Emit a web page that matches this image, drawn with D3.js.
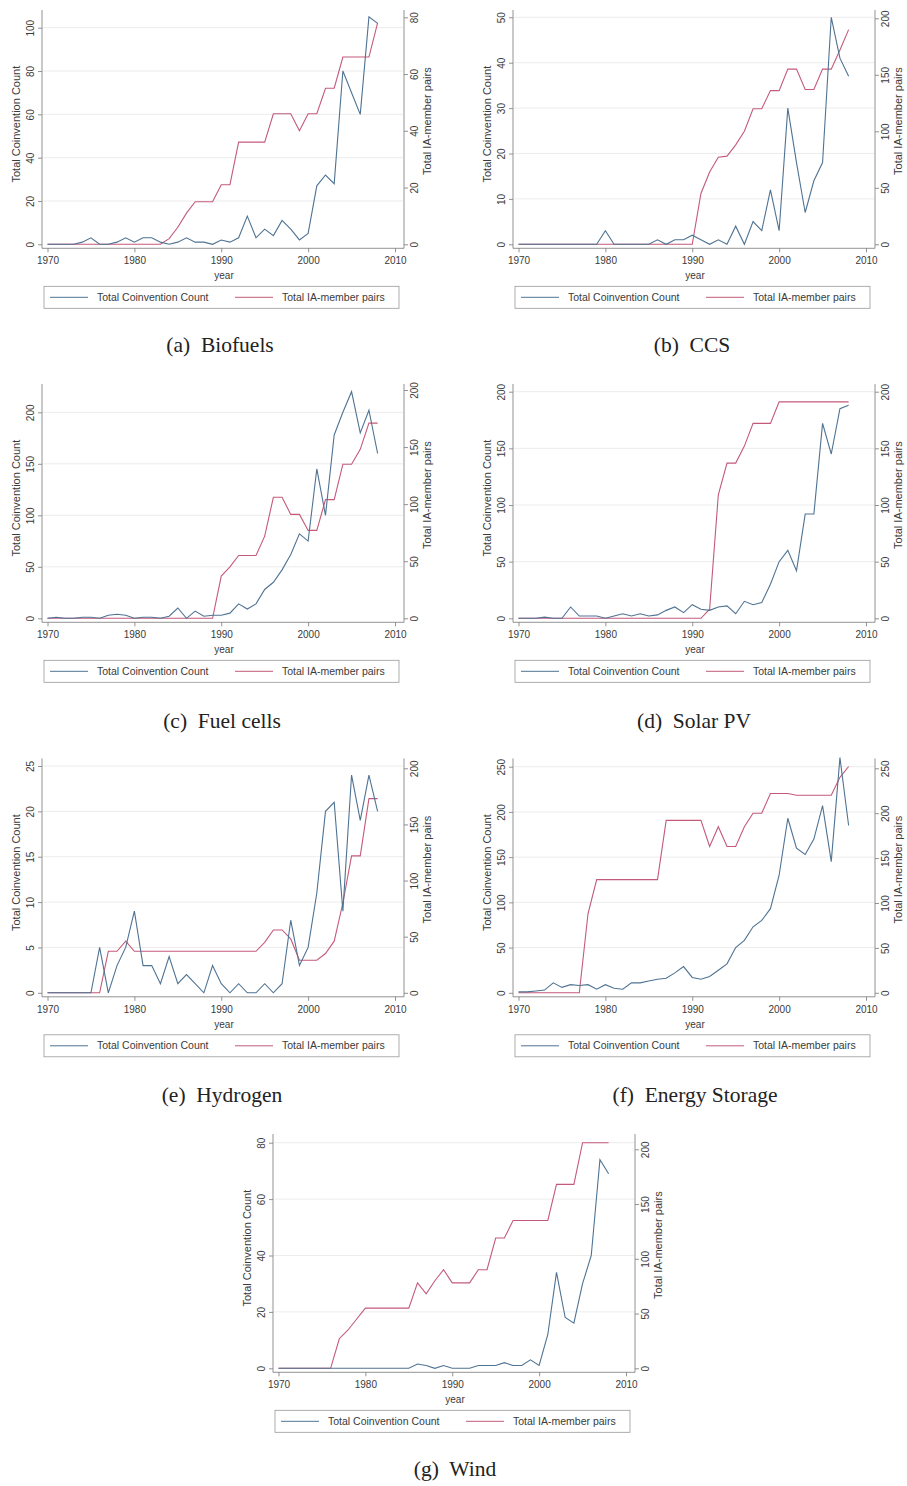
<!DOCTYPE html>
<html><head><meta charset="utf-8">
<script src="https://cdn.jsdelivr.net/npm/d3@7"></script>
<style>
body{margin:0;background:#fff;}
svg{display:block;}
</style>
</head><body>
<svg id="c" width="907" height="1486"></svg>
<script>
// ---- data ----
const years = d3.range(1970, 2009);
const xTicks = [1970, 1980, 1990, 2000, 2010];
const legendLabels = ["Total Coinvention Count", "Total IA-member pairs"];

const biofuelsCount = [0,0,0,0,1,3,0,0,1,3,1,3,3,1,0,1,3,1,1,0,2,1,3,13,3,7,4,11,7,2,5,27,32,28,80,70,60,105,102];
const biofuelsPairs = [0,0,0,0,0,0,0,0,0,0,0,0,0,0,2,6,11,15,15,15,21,21,36,36,36,36,46,46,46,40,46,46,55,55,66,66,66,66,78];

const ccsCount = [0,0,0,0,0,0,0,0,0,0,3,0,0,0,0,0,1,0,1,1,2,1,0,1,0,4,0,5,3,12,3,30,18,7,14,18,50,41,37];
const ccsPairs = [0,0,0,0,0,0,0,0,0,0,0,0,0,0,0,0,0,0,0,0,0,45,64,77,78,88,100,120,120,136,136,155,155,137,137,155,155,172,190];

const fuelCount = [0,1,0,0,1,1,0,3,4,3,0,1,1,0,2,10,0,7,2,3,3,5,14,9,14,28,35,47,62,82,75,145,100,178,200,220,180,202,160];
const fuelPairs = [0,0,0,0,0,0,0,0,0,0,0,0,0,0,0,0,0,0,0,0,37,45,55,55,55,72,106,106,91,91,77,77,104,104,135,135,148,171,171];

const solarCount = [0,0,0,1,0,0,10,2,2,2,0,2,4,2,4,2,3,7,10,5,12,8,7,10,11,4,15,12,14,30,50,60,42,92,92,172,145,185,188];
const solarPairs = [0,0,0,0,0,0,0,0,0,0,0,0,0,0,0,0,0,0,0,0,0,0,8,109,137,137,152,172,172,172,191,191,191,191,191,191,191,191,191];

const hydroCount = [0,0,0,0,0,0,5,0,3,5,9,3,3,1,4,1,2,1,0,3,1,0,1,0,0,1,0,1,8,3,5,11,20,21,9,24,19,24,20];
const hydroPairs = [0,0,0,0,0,0,0,37,37,46,37,37,37,37,37,37,37,37,37,37,37,37,37,37,37,45,56,56,48,29,29,29,35,46,80,122,122,173,173];

const storageCount = [1,1,2,3,11,6,9,8,9,4,9,5,4,11,11,13,15,16,22,29,17,15,18,25,32,50,58,73,80,93,130,193,160,153,170,207,145,260,185];
const storagePairs = [0,0,0,0,0,0,0,0,88,126,126,126,126,126,126,126,126,192,192,192,192,192,163,185,163,163,185,200,200,222,222,222,220,220,220,220,220,240,252];

const windCount = [0,0,0,0,0,0,0,0,0,0,0,0,0,0,0,0,1.5,1,0,1,0,0,0,1,1,1,2,1,1,3,1,12,34,18,16,30,40,74,69];
const windPairs = [0,0,0,0,0,0,0,27,35,45,55,55,55,55,55,55,78,68,80,90,78,78,78,90,90,119,119,135,135,135,135,135,168,168,168,206,206,206,206];

const captions = ["(a)  Biofuels","(b)  CCS","(c)  Fuel cells","(d)  Solar PV","(e)  Hydrogen","(f)  Energy Storage","(g)  Wind"];
const leftTicks = [[0,20,40,60,80,100],[0,10,20,30,40,50],[0,50,100,150,200],[0,50,100,150,200],[0,5,10,15,20,25],[0,50,100,150,200,250],[0,20,40,60,80]];
const rightTicks = [[0,20,40,60,80],[0,50,100,150,200],[0,50,100,150,200],[0,50,100,150,200],[0,50,100,150,200],[0,50,100,150,200,250],[0,50,100,150,200]];

// ---- layout ----
const panels = [
  {count: biofuelsCount, pairs: biofuelsPairs, ox:0,   oy:0,    lTop:[100,27.7], rTop:[80,17.3], y0:244.3, capX:220, capY:346},
  {count: ccsCount,      pairs: ccsPairs,      ox:471, oy:0,    lTop:[50,17.3],  rTop:[200,18.3], y0:244.3, capX:692, capY:346},
  {count: fuelCount,     pairs: fuelPairs,     ox:0,   oy:374,  lTop:[200,38.3], rTop:[200,16], y0:244.3, capX:222, capY:722},
  {count: solarCount,    pairs: solarPairs,    ox:471, oy:374,  lTop:[200,17.7], rTop:[200,17.7], y0:244.3, capX:694, capY:722},
  {count: hydroCount,    pairs: hydroPairs,    ox:0,   oy:748.5,lTop:[25,17.5],  rTop:[200,19.8], y0:244.3, capX:222, capY:1096},
  {count: storageCount,  pairs: storagePairs,  ox:471, oy:748.5,lTop:[250,18.2], rTop:[250,19.8], y0:244.3, capX:695, capY:1096},
  {count: windCount,     pairs: windPairs,     ox:231, oy:1124, lTop:[80,18.7],  rTop:[200,25.3], y0:244.3, capX:455, capY:1470}
];

const BLUE = "#4f7393", RED = "#c45a7a";
const svg = d3.select("#c");
const fontS = "Liberation Sans, Arial, sans-serif";
const TXT = "#3a3a3a";

panels.forEach((p, i) => {
  const g = svg.append("g").attr("transform", `translate(${p.ox},${p.oy})`);
  const xL = 42, xR = 404, yAx = p.y0 + 4, yTop = 10;
  const x = d3.scaleLinear().domain([1970, 2010]).range([47.5, 395]);
  const yl = d3.scaleLinear().domain([0, p.lTop[0]]).range([p.y0, p.lTop[1]]);
  const yr = d3.scaleLinear().domain([0, p.rTop[0]]).range([p.y0, p.rTop[1]]);

  // gridlines
  g.append("g").selectAll("line").data(leftTicks[i].filter(d => d > 0)).join("line")
    .attr("x1", xL + 1).attr("x2", xR - 1)
    .attr("y1", d => yl(d)).attr("y2", d => yl(d))
    .attr("stroke", "#ececec").attr("stroke-width", 1);

  // axes
  const axL = d3.axisLeft(yl).tickValues(leftTicks[i]).tickSize(4).tickPadding(3);
  const gL = g.append("g").attr("transform", `translate(${xL},0)`).call(axL);
  gL.select(".domain").attr("d", `M0,${yTop}V${yAx}`);
  const axR = d3.axisRight(yr).tickValues(rightTicks[i]).tickSize(4).tickPadding(3);
  const gR = g.append("g").attr("transform", `translate(${xR},0)`).call(axR);
  gR.select(".domain").attr("d", `M0,${yTop}V${yAx}`);
  const axB = d3.axisBottom(x).tickValues(xTicks).tickFormat(d3.format("d")).tickSize(4).tickPadding(5);
  const gB = g.append("g").attr("transform", `translate(0,${yAx})`).call(axB);
  gB.select(".domain").attr("d", `M${xL},0H${xR}`);

  [gL, gR, gB].forEach(a => {
    a.selectAll("path,line").attr("stroke", "#777").attr("stroke-width", 0.8);
    a.selectAll("text").attr("font-family", fontS).attr("font-size", 10).attr("fill", TXT);
  });
  // rotate y tick labels
  gL.selectAll(".tick text").attr("transform", "rotate(-90)").attr("text-anchor", "middle")
    .attr("x", 0).attr("y", -8.5).attr("dy", 0);
  gR.selectAll(".tick text").attr("transform", "rotate(-90)").attr("text-anchor", "middle")
    .attr("x", 0).attr("y", 14).attr("dy", 0);

  // axis titles
  g.append("text").attr("transform", `translate(19.5,${(yTop + yAx) / 2 - 5}) rotate(-90)`)
    .attr("text-anchor", "middle").attr("font-family", fontS).attr("font-size", 11).attr("fill", TXT)
    .text("Total Coinvention Count");
  g.append("text").attr("transform", `translate(431,${(yTop + yAx) / 2 - 8}) rotate(-90)`)
    .attr("text-anchor", "middle").attr("font-family", fontS).attr("font-size", 11).attr("fill", TXT)
    .text("Total IA-member pairs");
  g.append("text").attr("x", (xL + xR) / 2 + 1).attr("y", yAx + 31)
    .attr("text-anchor", "middle").attr("font-family", fontS).attr("font-size", 10).attr("fill", TXT)
    .text("year");

  // lines
  const lineL = d3.line().x((d, j) => x(years[j])).y(d => yl(d));
  const lineR = d3.line().x((d, j) => x(years[j])).y(d => yr(d));
  g.append("path").datum(p.pairs).attr("d", lineR).attr("fill", "none").attr("stroke", RED).attr("stroke-width", 1.1);
  g.append("path").datum(p.count).attr("d", lineL).attr("fill", "none").attr("stroke", BLUE).attr("stroke-width", 1.1);

  // legend
  const lg = g.append("g").attr("transform", `translate(44,${yAx + 38})`);
  lg.append("rect").attr("width", 355).attr("height", 22).attr("fill", "#fff").attr("stroke", "#999").attr("stroke-width", 0.8);
  lg.append("line").attr("x1", 6).attr("x2", 44).attr("y1", 11).attr("y2", 11).attr("stroke", BLUE).attr("stroke-width", 1);
  lg.append("text").attr("x", 53).attr("y", 14.5).attr("font-family", fontS).attr("font-size", 10.5).attr("fill", TXT).text(legendLabels[0]);
  lg.append("line").attr("x1", 191).attr("x2", 229).attr("y1", 11).attr("y2", 11).attr("stroke", RED).attr("stroke-width", 1);
  lg.append("text").attr("x", 238).attr("y", 14.5).attr("font-family", fontS).attr("font-size", 10.5).attr("fill", TXT).text(legendLabels[1]);

  // caption
  svg.append("text").attr("x", p.capX).attr("y", p.capY + 6).attr("text-anchor", "middle")
    .attr("font-family", "Liberation Serif, DejaVu Serif, serif").attr("font-size", 21.5).attr("fill", "#222")
    .attr("xml:space", "preserve").style("white-space", "pre")
    .text(captions[i]);
});
</script>
</body></html>
